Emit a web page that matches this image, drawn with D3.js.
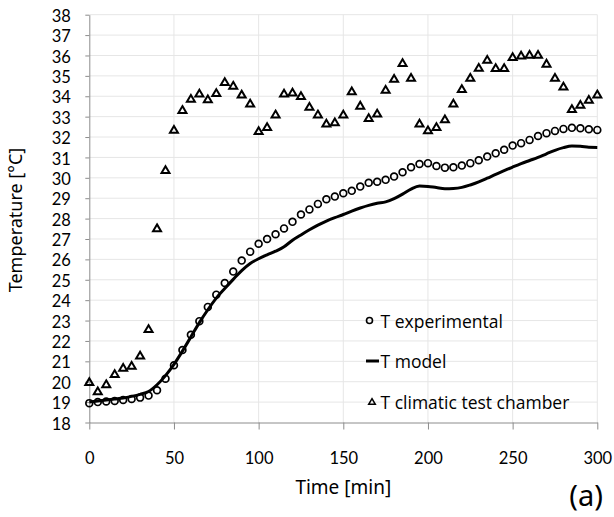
<!DOCTYPE html>
<html>
<head>
<meta charset="utf-8">
<script src="https://cdn.jsdelivr.net/npm/d3@7"></script>
<style>
    body { margin: 0; background: #ffffff; }
    .axis text { font-family: Lato, sans-serif; font-size: 16.5px; fill: #000; }
    .axis path, .axis line { stroke: #8c8c8c; }
    .grid line { stroke: #e6e6e6; stroke-width: 1; }
    .legend text { font-family: "Open Sans", sans-serif; font-size: 17.5px; fill: #000; }
</style>
</head>
<body>
<div id="chart"></div>
<script>

// time stamps [min] of every sample
let timeMinutes = [0, 5, 10, 15, 20, 25, 30, 35, 40, 45, 50, 55, 60, 65, 70, 75, 80, 85, 90, 95,
    100, 105, 110, 115, 120, 125, 130, 135, 140, 145, 150, 155, 160, 165, 170, 175, 180, 185, 190, 195,
    200, 205, 210, 215, 220, 225, 230, 235, 240, 245, 250, 255, 260, 265, 270, 275, 280, 285, 290, 295, 300];

let tExperimental = [18.95, 19.0, 19.03, 19.06, 19.1, 19.15, 19.22, 19.32, 19.58, 20.15,
    20.81, 21.55, 22.3, 22.97, 23.67, 24.27, 24.84, 25.4, 25.94, 26.38,
    26.77, 27.0, 27.23, 27.52, 27.84, 28.2, 28.45, 28.72, 28.95, 29.08,
    29.24, 29.36, 29.57, 29.76, 29.81, 29.9, 30.06, 30.27, 30.52, 30.68,
    30.72, 30.58, 30.5, 30.52, 30.6, 30.72, 30.86, 31.04, 31.2, 31.38,
    31.58, 31.7, 31.86, 32.05, 32.19, 32.3, 32.4, 32.45, 32.43, 32.38, 32.35];

let tModel = [19.0, 19.05, 19.1, 19.15, 19.2, 19.28, 19.38, 19.52, 19.85, 20.3,
    20.85, 21.5, 22.2, 22.9, 23.53, 24.1, 24.57, 25.02, 25.45, 25.8,
    26.03, 26.22, 26.4, 26.62, 26.94, 27.2, 27.45, 27.68, 27.88, 28.05,
    28.2, 28.37, 28.52, 28.65, 28.75, 28.82, 28.98, 29.2, 29.45, 29.6,
    29.58, 29.52, 29.47, 29.48, 29.53, 29.65, 29.8, 29.98, 30.17, 30.35,
    30.53, 30.7, 30.85, 31.0, 31.18, 31.35, 31.48, 31.56, 31.55, 31.5, 31.49];

let tChamber = [20.0, 19.55, 19.9, 20.4, 20.7, 20.8, 21.3, 22.6, 27.55, 30.4,
    32.38, 33.35, 33.9, 34.15, 33.87, 34.18, 34.72, 34.54, 34.1, 33.66,
    32.31, 32.51, 33.13, 34.15, 34.2, 34.03, 33.5, 33.13, 32.68, 32.74,
    33.12, 34.26, 33.56, 32.95, 33.17, 34.34, 34.88, 35.65, 34.93, 32.68,
    32.35, 32.51, 32.89, 33.66, 34.37, 34.93, 35.42, 35.81, 35.4, 35.4,
    35.94, 36.02, 36.05, 36.05, 35.62, 34.93, 34.5, 33.39, 33.6, 33.85, 34.11];

let xTicks = [0, 50, 100, 150, 200, 250, 300];
let yTicks = [18, 19, 20, 21, 22, 23, 24, 25, 26, 27, 28, 29, 30, 31, 32, 33, 34, 35, 36, 37, 38];

let legendLabels = ["T experimental", "T model", "T climatic test chamber"];


class TemperatureVis {

    constructor(parentElement) {
        this.parentElement = parentElement;
        this.initVis();
    }

    initVis() {
        let vis = this;

        vis.margin = {top: 14.7, right: 16.7, bottom: 94.5, left: 89.3};
        vis.width = 614 - vis.margin.left - vis.margin.right;
        vis.height = 517 - vis.margin.top - vis.margin.bottom;

        vis.svg = d3.select("#" + vis.parentElement).append("svg")
            .attr("width", 614)
            .attr("height", 517);

        vis.g = vis.svg.append("g")
            .attr("transform", `translate(${vis.margin.left}, ${vis.margin.top})`);

        vis.x = d3.scaleLinear().domain([0, 300]).range([0, vis.width]);
        vis.y = d3.scaleLinear().domain([18, 38]).range([vis.height, 0]);

        // grid lines
        let grid = vis.g.append("g").attr("class", "grid");
        grid.selectAll(".hgrid")
            .data(yTicks.slice(1))
            .enter().append("line")
            .attr("x1", 0)
            .attr("x2", vis.width)
            .attr("y1", d => vis.y(d))
            .attr("y2", d => vis.y(d));
        grid.selectAll(".vgrid")
            .data(xTicks.slice(1))
            .enter().append("line")
            .attr("x1", d => vis.x(d))
            .attr("x2", d => vis.x(d))
            .attr("y1", 0)
            .attr("y2", vis.height);

        // axes
        vis.g.append("g")
            .attr("class", "axis y-axis")
            .call(d3.axisLeft(vis.y).tickValues(yTicks).tickSize(4).tickSizeOuter(0).tickPadding(14.5))
            .selectAll("text").attr("dy", "0.4em");

        vis.g.append("g")
            .attr("class", "axis x-axis")
            .attr("transform", `translate(0, ${vis.height})`)
            .call(d3.axisBottom(vis.x).tickValues(xTicks).tickSize(7).tickSizeOuter(0).tickPadding(23));

        // axis titles
        vis.svg.append("text")
            .attr("transform", "translate(22, 220) rotate(-90)")
            .attr("text-anchor", "middle")
            .style("font-family", "Noto Sans")
            .style("font-size", "18px")
            .text("Temperature [°C]");

        vis.svg.append("text")
            .attr("x", vis.margin.left + vis.x(150))
            .attr("y", 494)
            .attr("text-anchor", "middle")
            .style("font-family", "Noto Sans")
            .style("font-size", "19px")
            .text("Time [min]");

        vis.svg.append("text")
            .attr("x", 603)
            .attr("y", 506)
            .attr("text-anchor", "end")
            .style("font-family", "Noto Sans")
            .style("font-size", "29px")
            .text("(a)");

        vis.wrangleData();
    }

    wrangleData() {
        let vis = this;

        vis.displayData = timeMinutes.map((t, i) => ({
            time: t,
            experimental: tExperimental[i],
            model: tModel[i],
            chamber: tChamber[i]
        }));

        vis.updateVis();
    }

    trianglePath(w, h) {
        return `M0,${-h}L${w},${h}L${-w},${h}Z`;
    }

    updateVis() {
        let vis = this;

        // model line
        let line = d3.line()
            .x(d => vis.x(d.time))
            .y(d => vis.y(d.model))
            .curve(d3.curveMonotoneX);

        vis.g.append("path")
            .datum(vis.displayData)
            .attr("fill", "none")
            .attr("stroke", "black")
            .attr("stroke-width", 3)
            .attr("stroke-linejoin", "round")
            .attr("d", line);

        // experimental circles
        vis.g.selectAll(".exp")
            .data(vis.displayData)
            .enter().append("circle")
            .attr("class", "exp")
            .attr("cx", d => vis.x(d.time))
            .attr("cy", d => vis.y(d.experimental))
            .attr("r", 3.4)
            .attr("fill", "none")
            .attr("stroke", "black")
            .attr("stroke-width", 1.7);

        // climatic chamber triangles
        vis.g.selectAll(".chamber")
            .data(vis.displayData)
            .enter().append("path")
            .attr("class", "chamber")
            .attr("transform", d => `translate(${vis.x(d.time)}, ${vis.y(d.chamber)})`)
            .attr("d", vis.trianglePath(4, 3.4))
            .attr("fill", "none")
            .attr("stroke", "black")
            .attr("stroke-width", 2)
            .attr("stroke-linejoin", "miter");

        // legend
        let legend = vis.svg.append("g").attr("class", "legend");
        let items = legend.selectAll(".item")
            .data(legendLabels)
            .enter().append("g")
            .attr("transform", (d, i) => `translate(372, ${320.5 + i * 40.5})`);

        items.append("text")
            .attr("x", 8.5)
            .attr("y", 7)
            .text(d => d);

        items.filter((d, i) => i === 0).append("circle")
            .attr("cx", -2.5)
            .attr("r", 3)
            .attr("fill", "none")
            .attr("stroke", "black")
            .attr("stroke-width", 1.6);

        items.filter((d, i) => i === 1).append("line")
            .attr("x1", -6)
            .attr("x2", 7)
            .attr("stroke", "black")
            .attr("stroke-width", 3);

        items.filter((d, i) => i === 2).append("path")
            .attr("d", vis.trianglePath(3.3, 2.8))
            .attr("fill", "none")
            .attr("stroke", "black")
            .attr("stroke-width", 1.5);
    }
}

let temperatureVis = new TemperatureVis("chart");

</script>
</body>
</html>
